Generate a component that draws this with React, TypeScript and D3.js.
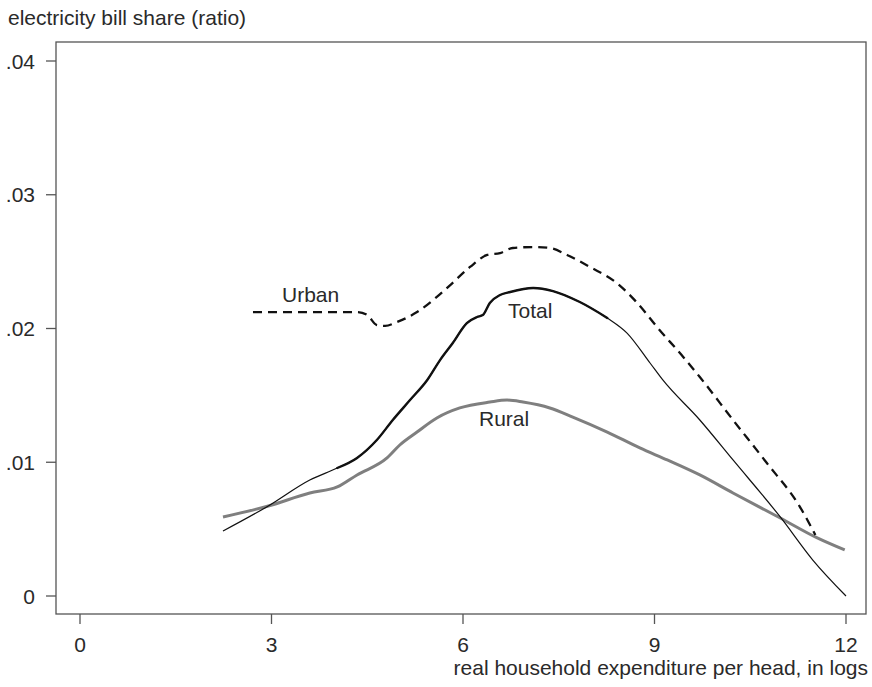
import React, { useRef, useEffect } from 'react';
import * as d3 from 'd3';

// log real expenditure per head (x) vs electricity bill share (y)
const totalX = [2.24, 2.95, 3.6, 4.03, 4.34, 4.65, 4.9, 5.17, 5.44, 5.64, 5.84, 6.06, 6.22, 6.31, 6.42, 6.58, 6.74, 7.1, 7.41, 7.83, 8.26, 8.57, 8.93, 9.13, 9.71, 10.23, 10.97, 11.48, 12.0];
const totalY = [0.00486, 0.00673, 0.00867, 0.00957, 0.01032, 0.01166, 0.01316, 0.01465, 0.01615, 0.01764, 0.01892, 0.02041, 0.02086, 0.02101, 0.02191, 0.0225, 0.02273, 0.02303, 0.0228, 0.02198, 0.02079, 0.01966, 0.01742, 0.01615, 0.01316, 0.01017, 0.00591, 0.00269, 0.0];

const ruralX = [2.24, 2.95, 3.6, 4.03, 4.34, 4.81, 5.01, 5.28, 5.59, 5.95, 6.42, 6.69, 6.94, 7.36, 7.72, 8.26, 8.77, 9.2, 9.71, 10.23, 10.97, 11.55, 11.98];
const ruralY = [0.00591, 0.00673, 0.0077, 0.00815, 0.00905, 0.01032, 0.01129, 0.01226, 0.01331, 0.01406, 0.0145, 0.01465, 0.0145, 0.01406, 0.01338, 0.01226, 0.01107, 0.01017, 0.00905, 0.0077, 0.00583, 0.00434, 0.00344];

const urbanX = [2.71, 3.6, 4.34, 4.5, 4.65, 4.78, 4.97, 5.28, 5.59, 5.8, 6.11, 6.38, 6.58, 6.78, 7.1, 7.36, 7.63, 7.99, 8.41, 8.73, 9.04, 9.45, 9.71, 10.23, 10.76, 11.28, 11.52];
const urbanY = [0.02123, 0.02123, 0.02123, 0.02101, 0.02026, 0.02019, 0.02049, 0.02123, 0.02236, 0.02325, 0.0246, 0.0255, 0.02564, 0.02602, 0.02609, 0.02602, 0.0255, 0.0246, 0.0234, 0.02191, 0.02011, 0.01787, 0.01637, 0.01316, 0.00994, 0.00665, 0.00456];

const xTicks = [0, 3, 6, 9, 12];
const yTicks = [0, 0.01, 0.02, 0.03, 0.04];
const yTickLabels = ['0', '.01', '.02', '.03', '.04'];

const W = 872;
const H = 687;
const font = 'Liberation Sans, Arial, sans-serif';
const fs = 21;

const App = () => {
  const svgRef = useRef<SVGSVGElement>(null);

  useEffect(() => {
    const svg = d3.select(svgRef.current);
    svg.selectAll('*').remove();

    // plot frame
    const left = 56, right = 866, top = 42, bottom = 614;

    const x = d3.scaleLinear().domain([0, 12]).range([80, 846]);
    const y = d3.scaleLinear().domain([0, 0.04]).range([596, 61]);

    const axisColor = '#555';
    const textColor = '#2a2a2a';

    svg.append('rect')
      .attr('x', left).attr('y', top)
      .attr('width', right - left).attr('height', bottom - top)
      .attr('fill', 'none').attr('stroke', axisColor).attr('stroke-width', 1.3);

    // y axis
    const yAxis = svg.append('g');
    yTicks.forEach((t, i) => {
      yAxis.append('line')
        .attr('x1', left - 10).attr('x2', left)
        .attr('y1', y(t)).attr('y2', y(t))
        .attr('stroke', axisColor).attr('stroke-width', 1.3);
      yAxis.append('text')
        .attr('x', 35).attr('y', y(t))
        .attr('dy', '0.36em')
        .attr('text-anchor', 'end')
        .attr('font-family', font).attr('font-size', fs)
        .attr('fill', textColor)
        .text(yTickLabels[i]);
    });

    // x axis
    const xAxis = svg.append('g');
    xTicks.forEach(t => {
      xAxis.append('line')
        .attr('x1', x(t)).attr('x2', x(t))
        .attr('y1', bottom).attr('y2', bottom + 10)
        .attr('stroke', axisColor).attr('stroke-width', 1.3);
      xAxis.append('text')
        .attr('x', x(t)).attr('y', 652)
        .attr('text-anchor', 'middle')
        .attr('font-family', font).attr('font-size', fs)
        .attr('fill', textColor)
        .text(String(t));
    });

    svg.append('text')
      .attr('x', 8).attr('y', 25)
      .attr('font-family', font).attr('font-size', fs)
      .attr('fill', textColor)
      .text('electricity bill share (ratio)');

    svg.append('text')
      .attr('x', 868).attr('y', 675)
      .attr('text-anchor', 'end')
      .attr('font-family', font).attr('font-size', fs)
      .attr('fill', textColor)
      .text('real household expenditure per head, in logs');

    const line = d3.line<[number, number]>()
      .x(d => x(d[0]))
      .y(d => y(d[1]))
      .curve(d3.curveMonotoneX);

    const zip = (xs: number[], ys: number[]) => xs.map((v, i) => [v, ys[i]] as [number, number]);
    const total = zip(totalX, totalY);
    const rural = zip(ruralX, ruralY);
    const urban = zip(urbanX, urbanY);

    // rural: thick gray
    svg.append('path')
      .attr('d', line(rural))
      .attr('fill', 'none')
      .attr('stroke', '#7f7f7f')
      .attr('stroke-width', 3)
      .attr('stroke-linejoin', 'round');

    // total: thin black, thicker where the data is dense
    svg.append('path')
      .attr('d', line(total))
      .attr('fill', 'none')
      .attr('stroke', '#111')
      .attr('stroke-width', 1.2);
    svg.append('path')
      .attr('d', line(total.filter(d => d[0] >= 4.0 && d[0] <= 8.3)))
      .attr('fill', 'none')
      .attr('stroke', '#111')
      .attr('stroke-width', 2.4)
      .attr('stroke-linecap', 'round')
      .attr('stroke-linejoin', 'round');

    // urban: dashed black
    svg.append('path')
      .attr('d', line(urban))
      .attr('fill', 'none')
      .attr('stroke', '#111')
      .attr('stroke-width', 2.3)
      .attr('stroke-dasharray', '9,6');

    // series labels
    const labels = [
      { t: 'Urban', x: 282, y: 302 },
      { t: 'Total', x: 508, y: 318 },
      { t: 'Rural', x: 479, y: 426 },
    ];
    labels.forEach(l => {
      svg.append('text')
        .attr('x', l.x).attr('y', l.y)
        .attr('font-family', font).attr('font-size', fs)
        .attr('fill', textColor)
        .text(l.t);
    });
  }, []);

  return (
    <svg
      ref={svgRef}
      width={W}
      height={H}
      style={{ position: 'absolute', left: 0, top: 0, background: '#fff' }}
    />
  );
};

export default App;
